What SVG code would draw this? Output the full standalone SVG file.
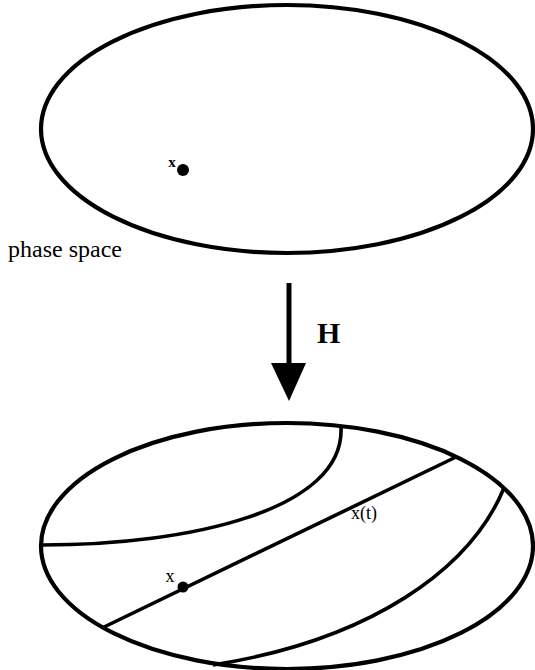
<svg xmlns="http://www.w3.org/2000/svg" width="535" height="670" viewBox="0 0 535 670">
<style>
.outline{fill:none;stroke:#000;stroke-width:4.2}
.curve{fill:none;stroke:#000;stroke-width:3.6}
.lbl{font-family:"Liberation Serif","Times New Roman",serif;fill:#000}
</style>
<rect width="535" height="670" fill="#fff"/>
<g id="phase-space-top">
<ellipse class="outline" cx="287" cy="129" rx="246" ry="124"/>
<circle cx="183" cy="170" r="6"/>
<text class="lbl" x="172" y="167" font-size="15" font-weight="bold" text-anchor="middle">x</text>
<text class="lbl" x="8" y="257" font-size="24">phase space</text>
</g>
<g id="connectors">
<line x1="289" y1="283" x2="289" y2="366" stroke="#000" stroke-width="5"/>
<polygon points="271,363 306,363 289,401" fill="#000"/>
<text class="lbl" x="317" y="343" font-size="30" font-weight="bold">H</text>
</g>
<g id="phase-space-bottom">
<ellipse class="outline" cx="287" cy="546" rx="246" ry="123"/>
<path class="curve" d="M341,427 C345,510 190,545 42,545"/>
<line class="curve" x1="102" y1="628" x2="456" y2="457"/>
<path class="curve" d="M504,488 C470,570 370,640 213,665"/>
<circle cx="183" cy="587" r="5.5"/>
<text class="lbl" x="170" y="582" font-size="18" text-anchor="middle">x</text>
<text class="lbl" x="351" y="519" font-size="18">x(t)</text>
</g>
</svg>
